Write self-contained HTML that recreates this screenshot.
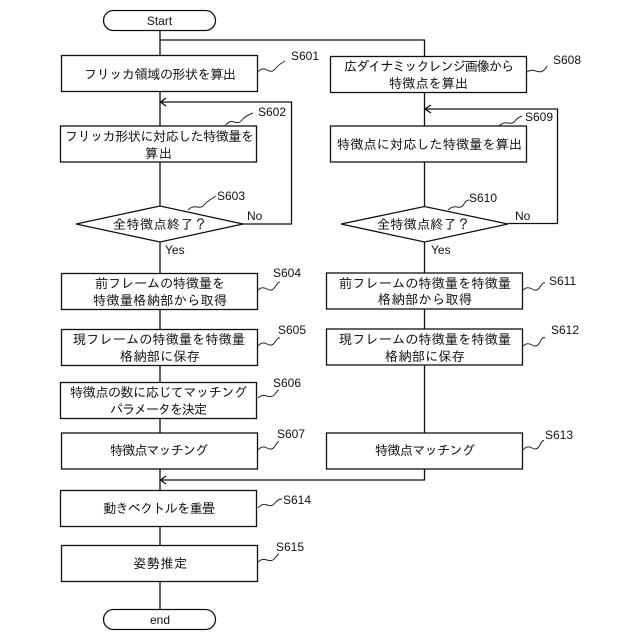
<!DOCTYPE html>
<html><head><meta charset="utf-8"><style>
html,body{margin:0;padding:0;background:#fff}
svg{display:block}
.j{font-family:"Liberation Sans","IPAGothic","Noto Sans CJK JP",sans-serif;font-size:13.2px;fill:#111;text-anchor:start}
.l{font-family:"Liberation Sans",sans-serif;font-size:12px;fill:#111}
.s{fill:none;stroke:#222;stroke-width:1}
.b{fill:#fff;stroke:#111;stroke-width:1.3}
.c{fill:none;stroke:#111;stroke-width:1.3}
</style></head><body>
<svg width="640" height="640" viewBox="0 0 640 640" xmlns="http://www.w3.org/2000/svg">
<!-- connectors -->
<path class="c" d="M160 30V610"/>
<path class="c" d="M160 40H424.500V57"/>
<path class="c" d="M424.500 92V433"/>
<path class="c" d="M424.500 469V480H160"/>
<path class="c" d="M242 224H291.500V102H160"/>
<path class="c" d="M508 223.500H557.500V109H424.500"/>
<path class="c" d="M166 98L160.500 102L166 106"/>
<path class="c" d="M431 105L425 109L431 113"/>
<path class="c" d="M166 476L160.500 480L166 484"/>
<!-- terminals -->
<rect class="b" x="103.500" y="10.500" width="112" height="20" rx="10"/>
<rect class="b" x="103.500" y="609.500" width="112" height="20" rx="10"/>
<!-- left boxes -->
<rect class="b" x="61.500" y="55.500" width="196" height="36"/>
<rect class="b" x="60.500" y="126" width="196" height="36"/>
<polygon class="b" points="76,224 160,206 243,224 160,242"/>
<rect class="b" x="61.500" y="273.500" width="196" height="36"/>
<rect class="b" x="61.500" y="329.500" width="196" height="36"/>
<rect class="b" x="60.500" y="382.500" width="196" height="36"/>
<rect class="b" x="61.500" y="433" width="196" height="36"/>
<rect class="b" x="60.500" y="490.500" width="196" height="36"/>
<rect class="b" x="61.500" y="545.500" width="196" height="36"/>
<!-- right boxes -->
<rect class="b" x="330.500" y="56.500" width="196" height="36"/>
<rect class="b" x="330.500" y="126" width="196" height="36"/>
<polygon class="b" points="341,224 424.500,206.500 508,224 424.500,242"/>
<rect class="b" x="326.500" y="273" width="196" height="36"/>
<rect class="b" x="326.500" y="329" width="196" height="36"/>
<rect class="b" x="326.500" y="433" width="196" height="36"/>
<!-- squiggles -->
<path class="s" d="M258 72Q262 67 267 70T275 69T285 61"/>
<path class="s" d="M225 126Q229 120 234 122T242 120T253 113"/>
<path class="s" d="M188 210Q192 206 197 207T204 205T216 196"/>
<path class="s" d="M258 290Q262 286 267 289T275 287T280 282"/>
<path class="s" d="M258 346Q262 341 267 344T275 342T280 338"/>
<path class="s" d="M258 398Q262 394 267 396T275 394T279 390"/>
<path class="s" d="M258 450Q262 445 267 448T275 446T279 442"/>
<path class="s" d="M258 508Q262 503 267 505T275 503T282 499"/>
<path class="s" d="M258 562Q262 558 267 560T275 558T279 554"/>
<path class="s" d="M527 72Q531 69 536 71T544 70T547 66"/>
<path class="s" d="M499 126Q503 122 508 123T515 121T522 116"/>
<path class="s" d="M448 210Q452 206 457 207T464 204T469 200"/>
<path class="s" d="M523 290Q527 286 532 289T540 287T545 283"/>
<path class="s" d="M523 346Q527 342 532 345T540 342T545 338"/>
<path class="s" d="M523 450Q527 445 532 448T540 445T544 441"/>
<!-- terminal text -->
<text class="l" x="159.500" y="25" text-anchor="middle">Start</text>
<text class="l" x="160" y="624" text-anchor="middle">end</text>
<!-- box text -->
<text class="j" x="84" y="79" textLength="152">フリッカ領域の形状を算出</text>
<text class="j" x="65" y="141" textLength="189">フリッカ形状に対応した特徴量を</text>
<text class="j" x="145" y="158" textLength="27">算出</text>
<text class="j" x="113" y="229" textLength="94">全特徴点終了？</text>
<text class="j" x="95" y="288" textLength="130">前フレームの特徴量を</text>
<text class="j" x="93" y="305" textLength="134">特徴量格納部から取得</text>
<text class="j" x="73" y="344" textLength="172">現フレームの特徴量を特徴量</text>
<text class="j" x="120" y="361" textLength="80">格納部に保存</text>
<text class="j" x="70" y="397" textLength="177">特徴点の数に応じてマッチング</text>
<text class="j" x="110" y="414" textLength="97">パラメータを決定</text>
<text class="j" x="110" y="455" textLength="98">特徴点マッチング</text>
<text class="j" x="103" y="513" textLength="112">動きベクトルを重畳</text>
<text class="j" x="133" y="568" textLength="54">姿勢推定</text>
<text class="j" x="344" y="71" textLength="170">広ダイナミックレンジ画像から</text>
<text class="j" x="389" y="88" textLength="79">特徴点を算出</text>
<text class="j" x="337" y="149" textLength="185">特徴点に対応した特徴量を算出</text>
<text class="j" x="377" y="229" textLength="93">全特徴点終了？</text>
<text class="j" x="339" y="288" textLength="172">前フレームの特徴量を特徴量</text>
<text class="j" x="378" y="304" textLength="94">格納部から取得</text>
<text class="j" x="339" y="344" textLength="172">現フレームの特徴量を特徴量</text>
<text class="j" x="385" y="361" textLength="80">格納部に保存</text>
<text class="j" x="375" y="455" textLength="100">特徴点マッチング</text>
<!-- yes/no -->
<text class="l" x="247" y="220">No</text>
<text class="l" x="165" y="254">Yes</text>
<text class="l" x="515" y="220">No</text>
<text class="l" x="431" y="254">Yes</text>
<!-- step labels -->
<text class="l" x="291" y="60">S601</text>
<text class="l" x="258" y="116">S602</text>
<text class="l" x="217" y="200">S603</text>
<text class="l" x="273" y="277">S604</text>
<text class="l" x="278" y="334">S605</text>
<text class="l" x="273" y="387">S606</text>
<text class="l" x="277" y="438">S607</text>
<text class="l" x="283" y="504">S614</text>
<text class="l" x="276" y="551">S615</text>
<text class="l" x="553" y="64">S608</text>
<text class="l" x="525" y="121">S609</text>
<text class="l" x="469" y="202">S610</text>
<text class="l" x="549" y="285">S611</text>
<text class="l" x="551" y="334">S612</text>
<text class="l" x="545" y="439">S613</text>
</svg>
</body></html>
